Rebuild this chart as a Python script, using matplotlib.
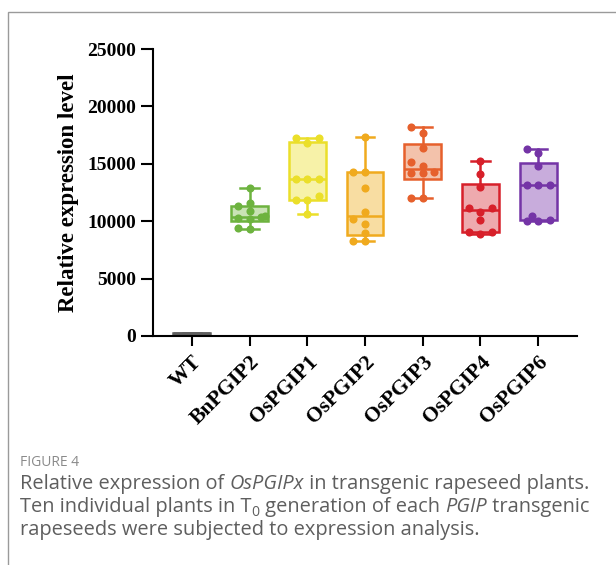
import numpy as np
import matplotlib.pyplot as plt
from matplotlib.patches import Rectangle

groups = ['WT', 'BnPGIP2', 'OsPGIP1', 'OsPGIP2', 'OsPGIP3', 'OsPGIP4', 'OsPGIP6']

wt = [120, 150, 180, 200, 210, 230, 250, 260, 280, 300]
bnpgip2 = [12900, 11550, 11300, 10900, 10450, 10350, 10250, 10200, 9450, 9300]
ospgip1 = [17240, 17240, 16810, 13675, 13675, 13675, 12190, 11850, 11850, 10630]
ospgip2 = [17330, 14280, 14280, 12890, 10800, 10190, 9755, 8970, 8275, 8275]
ospgip3 = [18200, 17680, 16375, 15155, 14810, 14280, 14200, 14200, 12020, 12020]
ospgip4 = [15240, 14110, 12980, 11150, 11150, 10800, 10100, 9060, 9060, 8885]
ospgip6 = [16290, 15940, 14810, 13150, 13150, 13150, 10450, 10100, 10020, 10020]
values = [wt, bnpgip2, ospgip1, ospgip2, ospgip3, ospgip4, ospgip6]

edge_colors = ['#5f5f5f', '#6db33f', '#ebdf2a', '#f0aa1e', '#e6602c', '#d7202a', '#7434a6']
fill_colors = ['#6e6e6e', '#c9e3b5', '#f7f2a8', '#f8dda2', '#f3c2ab', '#eeaaae', '#c8acdc']

yticks = [0, 5000, 10000, 15000, 20000, 25000]

fig = plt.figure(figsize=(6.16, 5.65), dpi=100)
ax = fig.add_axes([153/616, 1-336/565, 424/616, 287/565])

# card border (left and top visible)
fig.add_artist(Rectangle((8/616, -0.5), 2, 1.5 - 12/565, transform=fig.transFigure,
                         fill=False, edgecolor='#9a9a9a', lw=1.0))

serif = 'Liberation Serif'

# box stats like GraphPad (min to max whiskers)
stats = []
for name, v in zip(groups, values):
    v = np.array(v, dtype=float)
    q1, med, q3 = np.percentile(v, [25, 50, 75], method='weibull')
    stats.append(dict(label=name, med=med, q1=q1, q3=q3, whislo=v.min(), whishi=v.max(), fliers=[]))

pos = np.arange(len(groups))
for i, st in enumerate(stats):
    ax.bxp([st], positions=[i], widths=0.64, capwidths=0.32, patch_artist=True, showfliers=False,
           boxprops=dict(facecolor=fill_colors[i], edgecolor=edge_colors[i], linewidth=1.8),
           medianprops=dict(color=edge_colors[i], linewidth=1.8),
           whiskerprops=dict(color=edge_colors[i], linewidth=1.8),
           capprops=dict(color=edge_colors[i], linewidth=1.8))

# scatter points, spread sideways when they overlap
px_x = 57.7
px_y = 287 / 25000
for i, v in enumerate(values):
    if i == 0:
        continue
    placed = []
    for y in sorted(v):
        for off in [0, -0.2, 0.2, -0.1, 0.1, -0.27, 0.27]:
            ok = True
            for (xo, yo) in placed:
                if np.hypot((xo - off) * px_x, (yo - y) * px_y) < 6.5:
                    ok = False
                    break
            if ok:
                break
        placed.append((off, y))
    xs = [i + p[0] for p in placed]
    ys = [p[1] for p in placed]
    ax.scatter(xs, ys, s=34, color=edge_colors[i], zorder=5, linewidths=0)

ax.set_xlim(-0.675, 6.675)
ax.set_ylim(0, 25000)
ax.set_yticks(yticks)
ax.set_yticklabels([str(t) for t in yticks], fontfamily=serif, fontweight='bold', fontsize=14)
ax.set_xticks(pos)
ax.set_xticklabels(groups, fontfamily=serif, fontweight='bold', fontsize=15.5,
                   rotation=45, ha='right', va='top', rotation_mode='anchor')
ax.tick_params(axis='y', length=9, width=1.5, pad=3)
ax.tick_params(axis='x', length=7.5, width=1.5, pad=4)
ax.set_ylabel('Relative expression level', fontfamily=serif, fontweight='bold', fontsize=16.5, labelpad=6)
for s in ['top', 'right']:
    ax.spines[s].set_visible(False)
for s in ['left', 'bottom']:
    ax.spines[s].set_linewidth(1.5)
    ax.spines[s].set_zorder(6)

# caption, written in runs so italics and subscript sit inline
renderer = fig.canvas.get_renderer()
cap_size = 14.4
cap_color = '#5e5e5e'


def caption_line(y, runs):
    x = 20 / 616
    for txt, style, sub in runs:
        size = cap_size * 0.7 if sub else cap_size
        yy = y - 5 / 565 if sub else y
        t = fig.text(x, yy, txt, fontfamily='Open Sans', fontsize=size, style=style,
                     color=cap_color, va='center')
        bb = t.get_window_extent(renderer)
        x += bb.width / fig.bbox.width


fig.text(20/616, 1-462/565, 'FIGURE 4', fontfamily='Open Sans', fontsize=10, color='#8a8a8a', va='center')
caption_line(1-484/565, [('Relative expression of ', 'normal', False), ('OsPGIPx', 'italic', False),
                         (' in transgenic rapeseed plants.', 'normal', False)])
caption_line(1-507/565, [('Ten individual plants in T', 'normal', False), ('0', 'normal', True),
                         (' generation of each ', 'normal', False), ('PGIP', 'italic', False),
                         (' transgenic', 'normal', False)])
caption_line(1-530/565, [('rapeseeds were subjected to expression analysis.', 'normal', False)])

fig.savefig('out.png', dpi=100)
